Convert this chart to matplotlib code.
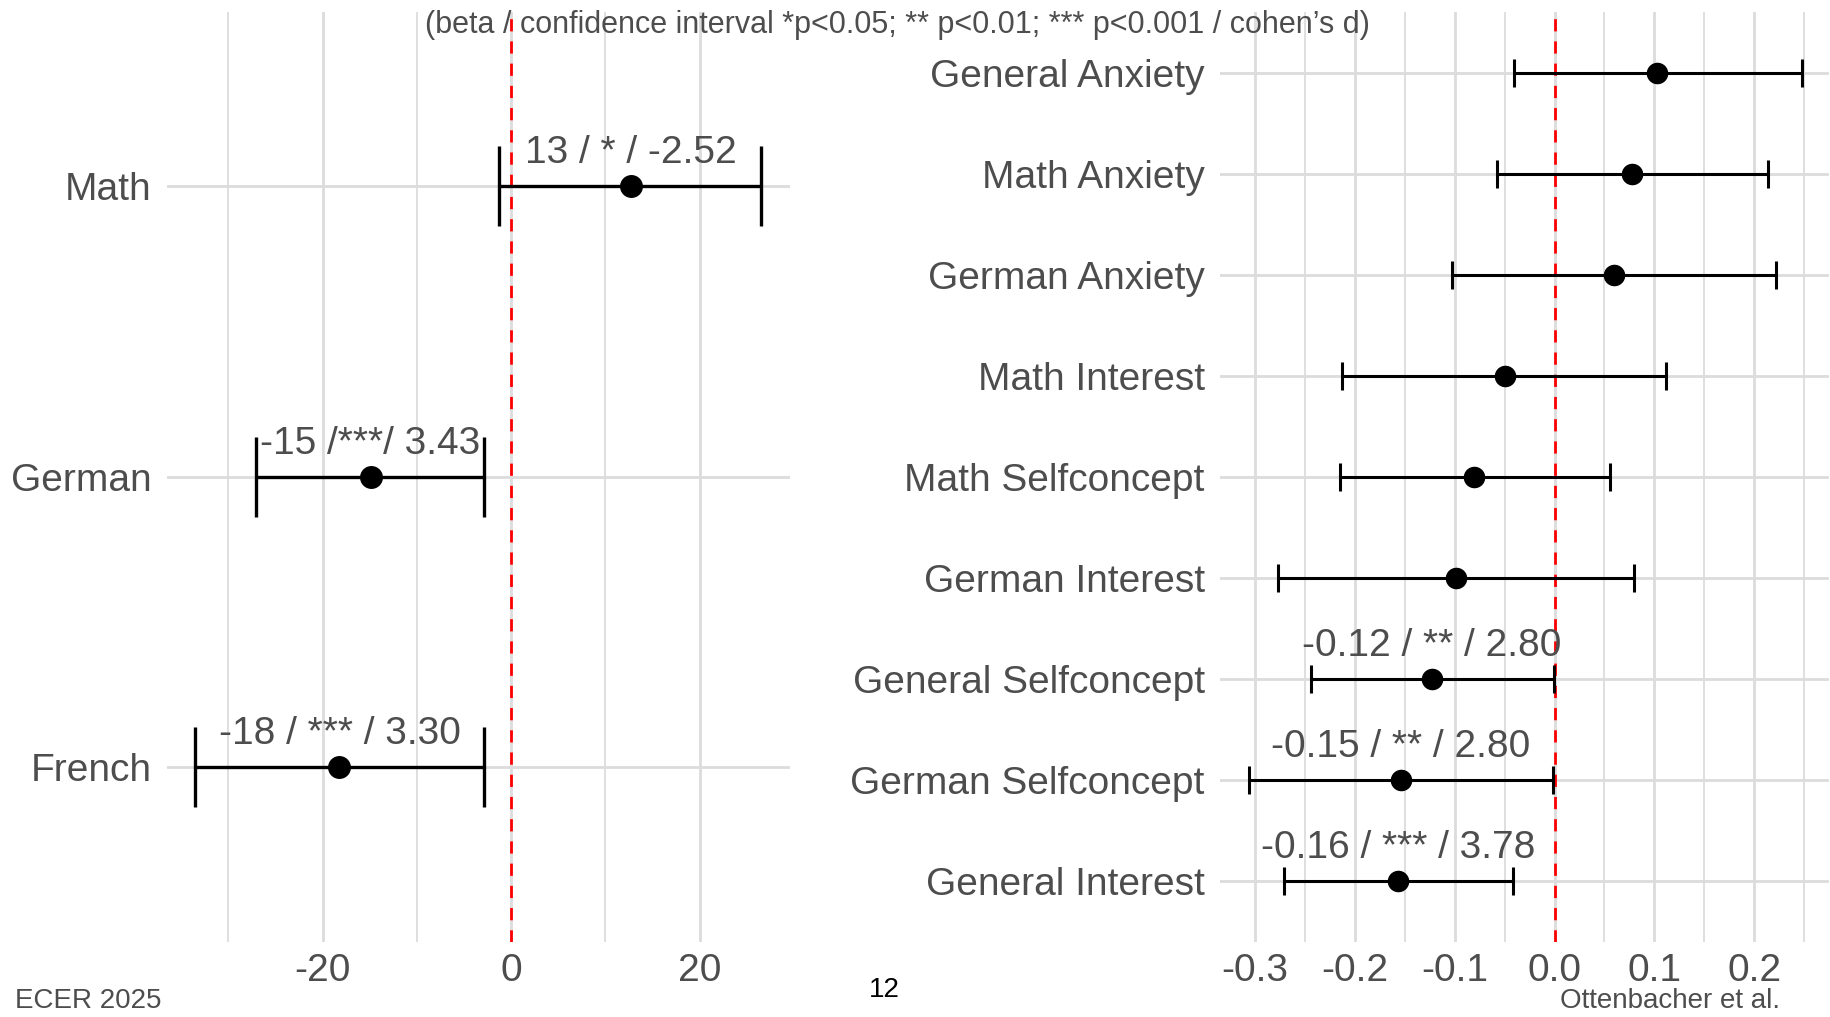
import matplotlib
matplotlib.use("Agg")
import matplotlib.pyplot as plt
from matplotlib.ticker import MultipleLocator, FormatStrFormatter

plt.rcParams['font.family'] = ['Liberation Sans', 'DejaVu Sans']
plt.rcParams['axes.unicode_minus'] = False

# left panel: achievement by subject
subjects = ["French", "German", "Math"]
subj_est = [-18.2, -14.9, 12.7]
subj_lo = [-33.5, -27.1, -1.3]
subj_hi = [-2.9, -2.9, 26.5]
subj_labels = ["-18 / *** / 3.30", "-15 /***/ 3.43", "13 / * / -2.52"]

# right panel: motivation / emotion scales
scales = ["General Interest", "German Selfconcept", "General Selfconcept",
          "German Interest", "Math Selfconcept", "Math Interest",
          "German Anxiety", "Math Anxiety", "General Anxiety"]
scale_est = [-0.157, -0.154, -0.123, -0.099, -0.081, -0.050, 0.060, 0.078, 0.1025]
scale_lo = [-0.271, -0.306, -0.244, -0.277, -0.215, -0.213, -0.103, -0.058, -0.041]
scale_hi = [-0.042, -0.002, -0.001, 0.080, 0.056, 0.112, 0.222, 0.214, 0.248]
scale_labels = ["-0.16 / *** / 3.78", "-0.15 / ** / 2.80", "-0.12 / ** / 2.80",
                "", "", "", "", "", ""]

GREY = "#4D4D4D"
GRID = "#DCDCDC"

fig = plt.figure(figsize=(18.31, 10.17), dpi=100)
ax1 = fig.add_axes([0.0912, 0.074, 0.3403, 0.914])
ax2 = fig.add_axes([0.6663, 0.074, 0.3327, 0.914])


def forest(ax, names, est, lo, hi, labels, capsize, lw, ms, label_off):
    y = list(range(1, len(names) + 1))
    xerr = [[e - l for e, l in zip(est, lo)], [h - e for e, h in zip(est, hi)]]
    ax.axvline(0, color="red", lw=2.0, linestyle=(0, (4.4, 3.6)), zorder=2)
    ax.errorbar(est, y, xerr=xerr, fmt="o", color="black", ms=ms,
                elinewidth=lw, capsize=capsize, capthick=lw, zorder=3)
    for yi, e, t in zip(y, est, labels):
        if t:
            ax.annotate(t, (e, yi), xytext=(0, label_off), textcoords="offset points",
                        ha="center", va="center", fontsize=28, color=GREY, zorder=4)
    ax.set_yticks(y)
    ax.set_yticklabels(names)
    ax.set_ylim(0.4, len(names) + 0.6)
    for s in ax.spines.values():
        s.set_visible(False)
    ax.tick_params(which="both", length=0, labelsize=28, labelcolor=GREY)
    ax.tick_params(axis="y", pad=11)
    ax.tick_params(axis="x", pad=8, labelsize=28)
    ax.grid(True, which="major", color=GRID, lw=2, zorder=0)
    ax.grid(True, which="minor", axis="x", color=GRID, lw=1.3, zorder=0)
    ax.set_axisbelow(True)


forest(ax1, subjects, subj_est, subj_lo, subj_hi, subj_labels, 29, 2.4, 15.5, 24)
ax1.set_xlim(-36.5, 29.6)
ax1.xaxis.set_major_locator(MultipleLocator(20))
ax1.xaxis.set_minor_locator(MultipleLocator(10))

forest(ax2, scales, scale_est, scale_lo, scale_hi, scale_labels, 10, 2.2, 14.5, 24)
ax2.set_xlim(-0.335, 0.275)
ax2.xaxis.set_major_locator(MultipleLocator(0.1))
ax2.xaxis.set_minor_locator(MultipleLocator(0.05))
ax2.xaxis.set_major_formatter(FormatStrFormatter("%.1f"))

fig.text(0.49, 0.975, "(beta / confidence interval *p<0.05; ** p<0.01; *** p<0.001 / cohen\u2019s d)",
         ha="center", va="center", fontsize=22, color=GREY)
fig.text(0.008, 0.016, "ECER 2025", ha="left", va="center", fontsize=20, color=GREY)
fig.text(0.483, 0.027, "12", ha="center", va="center", fontsize=20, color="black")
fig.text(0.972, 0.016, "Ottenbacher et al.", ha="right", va="center", fontsize=20, color=GREY)

fig.savefig("out.png", dpi=100)
